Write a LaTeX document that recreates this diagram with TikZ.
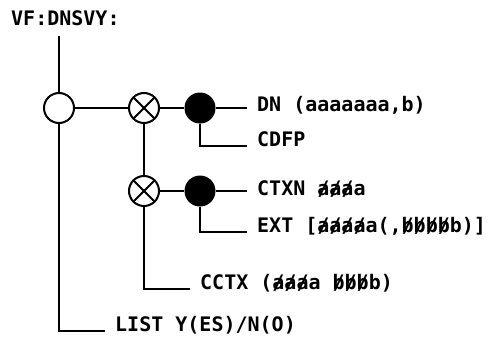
\documentclass[tikz,border=0pt]{standalone}
\usepackage{fontspec}
\newfontfamily\menufont{DejaVu Sans Mono Bold}
\newcommand{\sa}{\rlap{/}a}
\newcommand{\sbb}{\rlap{/}b}

\begin{document}
\begin{tikzpicture}[x=1pt, y=-1pt,
        junction/.style={circle, draw, line width=2pt, minimum size=30pt, inner sep=0pt},
        select/.style={junction, path picture={
            \draw[line width=2pt] (path picture bounding box.north west) -- (path picture bounding box.south east)
                (path picture bounding box.north east) -- (path picture bounding box.south west);}},
        option/.style={circle, fill=black, minimum size=31pt, inner sep=0pt},
        entry/.style={font=\menufont\fontsize{20}{24}\selectfont, anchor=base west, inner xsep=10pt, inner ysep=0pt},
        paths/.style={line width=1.7pt}
    ]
        \useasboundingbox (0,0) rectangle (488,340);

        % Nodes
        \node[entry, inner xsep=0pt] (title) at (11,26) {VF:DNSVY:};
        \coordinate (top) at (59,36);
        \node[junction] (root) at (59,108) {};
        \node[select] (sel1) at (144,108) {};
        \node[select] (sel2) at (144,191) {};
        \node[option] (opt1) at (200,108) {};
        \node[option] (opt2) at (200,191) {};

        % Nodes: Entries
        \node[entry] (dn) at (247,111) {DN (aaaaaaa,b)};
        \node[entry] (cdfp) at (247,146) {CDFP};
        \node[entry] (ctxn) at (247,195) {CTXN \sa\sa\sa a};
        \node[entry] (ext) at (247,232) {EXT [\sa\sa\sa\sa a(,\sbb\sbb\sbb\sbb b)]};
        \node[entry] (cctx) at (190,289) {CCTX (\sa\sa\sa a \sbb\sbb\sbb b)};
        \node[entry] (list) at (105,331) {LIST Y(ES)/N(O)};

        % Paths: Main line
        \draw[paths] (top) -- (root);
        \draw[paths] (root) -- (sel1);
        \draw[paths] (sel1) -- (opt1);
        \draw[paths] (sel1) -- (sel2);
        \draw[paths] (sel2) -- (opt2);

        % Paths: Branches
        \draw[paths] (opt1) -- (opt1 -| dn.west);
        \draw[paths] (opt1) |- (cdfp.base west);
        \draw[paths] (opt2) -- (opt2 -| ctxn.west);
        \draw[paths] (opt2) |- (ext.base west);
        \draw[paths] (sel2) |- (cctx.base west);
        \draw[paths] (root) |- (list.base west);
    \end{tikzpicture}
\end{document}
